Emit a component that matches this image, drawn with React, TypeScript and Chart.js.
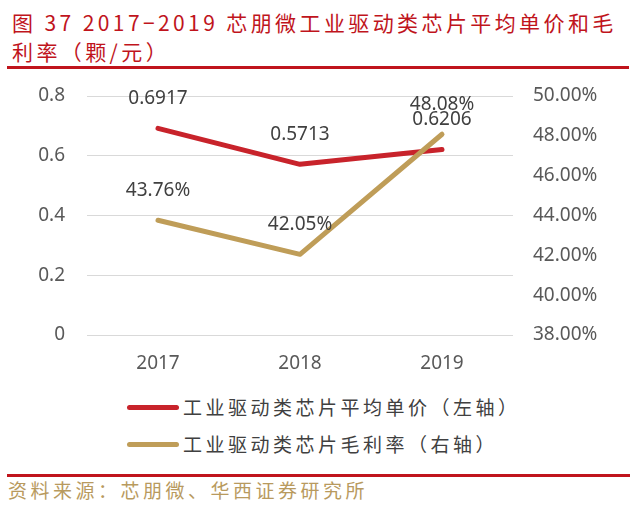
import { useEffect, useRef } from "react";
import { Chart, registerables } from "chart.js";

Chart.register(...registerables);

const years = ["2017", "2018", "2019"];
const unitPrice = [0.6917, 0.5713, 0.6206];
const grossMargin = [0.4376, 0.4205, 0.4808];
const priceLabels = unitPrice.map((v) => v.toFixed(4));
const marginLabels = grossMargin.map((v) => (v * 100).toFixed(2) + "%");

const RED = "#c8232b";
const GOLD = "#bf9d58";
const NUM_FONT = "'Noto Sans', sans-serif";
const CJK_FONT = "'Noto Sans CJK SC', sans-serif";

const pointLabelPlugin = {
  id: "pointLabels",
  afterDatasetsDraw(chart: any) {
    const ctx = chart.ctx;
    const texts = [priceLabels, marginLabels];
    ctx.save();
    ctx.font = `19px ${NUM_FONT}`;
    ctx.fillStyle = "#404040";
    ctx.textAlign = "center";
    ctx.textBaseline = "middle";
    chart.data.datasets.forEach((_ds: any, i: number) => {
      const meta = chart.getDatasetMeta(i);
      meta.data.forEach((pt: any, j: number) => {
        ctx.fillText(texts[i][j], pt.x, pt.y - 30);
      });
    });
    ctx.restore();
  },
};

// fixed axis widths, and no extra top/bottom room for the tick labels
const fixWidth = (w: number) => (scale: any) => {
  scale.width = w;
  scale.paddingTop = 0;
  scale.paddingBottom = 0;
};

const App = () => {
  const canvasRef = useRef<HTMLCanvasElement>(null);

  useEffect(() => {
    if (!canvasRef.current) return;
    const chart = new Chart(canvasRef.current, {
      type: "line",
      data: {
        labels: years,
        datasets: [
          {
            label: "工业驱动类芯片平均单价（左轴）",
            data: unitPrice,
            yAxisID: "y",
            borderColor: RED,
            backgroundColor: RED,
            borderWidth: 5,
            pointRadius: 0,
            tension: 0,
            borderCapStyle: "round",
            borderJoinStyle: "round",
            order: 1,
          },
          {
            label: "工业驱动类芯片毛利率（右轴）",
            data: grossMargin,
            yAxisID: "y1",
            borderColor: GOLD,
            backgroundColor: GOLD,
            borderWidth: 5,
            pointRadius: 0,
            tension: 0,
            borderCapStyle: "round",
            borderJoinStyle: "round",
            order: 0,
          },
        ],
      },
      options: {
        responsive: false,
        animation: false,
        layout: { padding: { top: 26, bottom: 5, left: 0, right: 0 } },
        plugins: {
          legend: { display: false },
          tooltip: { enabled: false },
        },
        scales: {
          x: {
            offset: true,
            grid: { display: false, drawTicks: false },
            border: { display: false },
            afterFit: (scale: any) => {
              scale.height = 40;
            },
            ticks: {
              color: "#595959",
              font: { family: NUM_FONT, size: 19 },
              padding: 17,
            },
          },
          y: {
            position: "left",
            min: 0,
            max: 0.8,
            grid: { color: "#d9d9d9", lineWidth: 1, drawTicks: false },
            border: { display: false },
            afterFit: fixWidth(87),
            ticks: {
              stepSize: 0.2,
              color: "#595959",
              font: { family: NUM_FONT, size: 19 },
              padding: 22,
              callback: (v: any) => String(+Number(v).toFixed(1)),
            },
          },
          y1: {
            position: "right",
            min: 0.38,
            max: 0.5,
            grid: { display: false, drawTicks: false },
            border: { display: false },
            afterFit: fixWidth(127),
            ticks: {
              stepSize: 0.02,
              color: "#595959",
              font: { family: NUM_FONT, size: 19 },
              padding: 20,
              callback: (v: any) => (Number(v) * 100).toFixed(2) + "%",
            },
          },
        },
      },
      plugins: [pointLabelPlugin],
    });
    return () => chart.destroy();
  }, []);

  const legendText: React.CSSProperties = {
    position: "absolute",
    left: 183,
    fontFamily: CJK_FONT,
    fontSize: 19,
    letterSpacing: 3.5,
    color: "#404040",
    lineHeight: "24px",
    whiteSpace: "nowrap",
  };

  return (
    <div
      style={{
        position: "absolute",
        left: 0,
        top: 0,
        width: 640,
        height: 522,
        background: "#fff",
        overflow: "hidden",
      }}
    >
      <div
        style={{
          position: "absolute",
          left: 12,
          top: 8,
          fontFamily: CJK_FONT,
          fontSize: 21,
          letterSpacing: 3.4,
          lineHeight: "29px",
          color: "#c0141c",
          whiteSpace: "nowrap",
        }}
      >
        <div>图 37 2017−2019 芯朋微工业驱动类芯片平均单价和毛</div>
        <div>利率（颗/元）</div>
      </div>
      <div
        style={{
          position: "absolute",
          left: 7,
          top: 66,
          width: 622,
          height: 3,
          background: "#c0141c",
        }}
      />
      <canvas
        ref={canvasRef}
        width={640}
        height={310}
        style={{ position: "absolute", left: 0, top: 70, width: 640, height: 310 }}
      />
      <div
        style={{
          position: "absolute",
          left: 127,
          top: 405,
          width: 52,
          height: 5,
          borderRadius: 3,
          background: RED,
        }}
      />
      <div style={{ ...legendText, top: 395 }}>工业驱动类芯片平均单价（左轴）</div>
      <div
        style={{
          position: "absolute",
          left: 127,
          top: 442,
          width: 52,
          height: 5,
          borderRadius: 3,
          background: GOLD,
        }}
      />
      <div style={{ ...legendText, top: 432 }}>工业驱动类芯片毛利率（右轴）</div>
      <div
        style={{
          position: "absolute",
          left: 7,
          top: 474,
          width: 623,
          height: 3,
          background: "#c0141c",
        }}
      />
      <div
        style={{
          position: "absolute",
          left: 8,
          top: 478,
          fontFamily: CJK_FONT,
          fontSize: 19,
          letterSpacing: 3.5,
          lineHeight: "24px",
          color: "#b89a5e",
          whiteSpace: "nowrap",
        }}
      >
        资料来源：芯朋微、华西证券研究所
      </div>
    </div>
  );
};

export default App;
